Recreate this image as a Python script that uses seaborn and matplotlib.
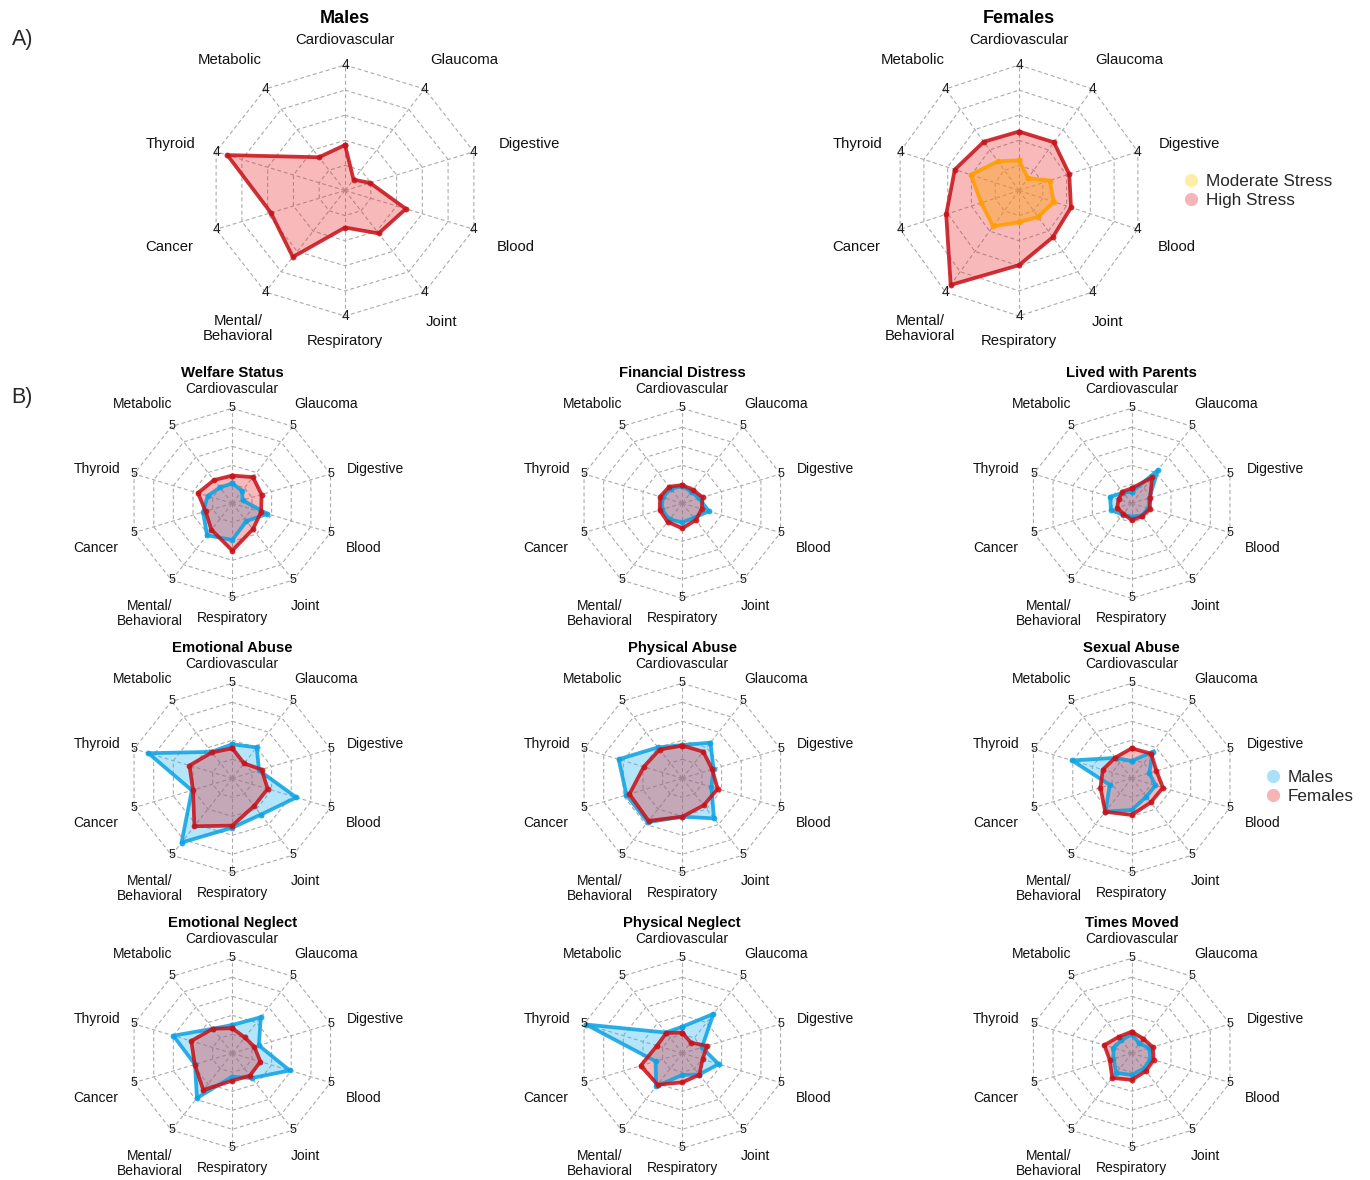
import numpy as np
import matplotlib
matplotlib.use("Agg")
import matplotlib.pyplot as plt
from matplotlib.lines import Line2D
import seaborn as sns

sns.set_theme(style="white")
plt.rcParams["font.family"] = ["Liberation Sans", "DejaVu Sans"]

categories = ["Cardiovascular", "Glaucoma", "Digestive", "Blood", "Joint",
              "Respiratory", "Mental/\nBehavioral", "Cancer", "Thyroid", "Metabolic"]

# A) stress level, max of scale = 4
males_high = [1.45, 0.43, 0.78, 1.89, 1.69, 1.18, 2.62, 2.30, 3.65, 1.31]
females_high = [1.88, 1.90, 1.69, 1.75, 1.84, 2.38, 3.72, 2.45, 2.16, 1.92]
females_moderate = [0.96, 0.49, 1.03, 1.17, 1.04, 1.01, 1.41, 1.27, 1.62, 1.15]

# B) adversities, max of scale = 5
panel_titles = ["Welfare Status", "Financial Distress", "Lived with Parents",
                "Emotional Abuse", "Physical Abuse", "Sexual Abuse",
                "Emotional Neglect", "Physical Neglect", "Times Moved"]
welfare_m = [1.05, 0.81, 0.52, 1.78, 1.16, 1.93, 2.08, 1.49, 1.25, 1.03]
welfare_f = [1.46, 1.70, 1.49, 1.47, 1.69, 2.49, 1.72, 1.36, 1.75, 1.51]
financial_m = [0.90, 0.75, 0.85, 1.35, 0.95, 1.00, 1.05, 1.05, 1.00, 0.95]
financial_f = [0.96, 0.87, 1.03, 0.99, 1.10, 1.32, 1.21, 1.15, 1.13, 1.08]
parents_m = [0.60, 2.15, 0.90, 0.85, 0.80, 0.70, 0.75, 1.06, 1.10, 0.70]
parents_f = [0.79, 1.68, 0.94, 0.92, 0.85, 0.88, 0.69, 0.74, 0.67, 0.76]
emo_abuse_m = [1.79, 2.01, 1.36, 3.26, 2.36, 2.60, 4.18, 2.06, 4.27, 1.72]
emo_abuse_f = [1.58, 0.97, 1.49, 1.80, 1.80, 2.49, 3.12, 2.00, 2.18, 1.68]
phys_abuse_m = [1.75, 2.32, 1.59, 1.48, 2.61, 2.02, 2.86, 2.84, 3.24, 2.01]
phys_abuse_f = [1.72, 1.73, 1.52, 1.80, 1.76, 2.02, 2.77, 2.69, 1.96, 1.87]
sex_abuse_m = [0.91, 1.72, 0.90, 1.21, 1.20, 1.67, 2.16, 1.12, 3.04, 1.33]
sex_abuse_f = [1.58, 1.60, 1.26, 1.59, 1.57, 1.93, 2.18, 1.59, 1.47, 1.35]
emo_neglect_m = [1.49, 2.35, 1.35, 2.92, 1.61, 1.23, 2.91, 1.90, 3.00, 1.60]
emo_neglect_f = [1.32, 1.03, 1.12, 1.43, 1.45, 1.44, 2.39, 1.91, 2.09, 1.60]
phys_neglect_m = [1.40, 2.56, 1.00, 1.85, 1.38, 1.14, 2.15, 1.36, 4.90, 1.35]
phys_neglect_f = [1.09, 0.70, 1.26, 1.03, 1.40, 1.53, 2.04, 2.12, 1.29, 1.32]
moved_m = [1.00, 0.64, 0.90, 0.95, 1.00, 1.14, 1.28, 0.93, 0.93, 0.85]
moved_f = [1.14, 0.95, 1.07, 1.12, 1.16, 1.40, 1.60, 1.12, 1.39, 1.07]

males_panels = [welfare_m, financial_m, parents_m, emo_abuse_m, phys_abuse_m,
                sex_abuse_m, emo_neglect_m, phys_neglect_m, moved_m]
females_panels = [welfare_f, financial_f, parents_f, emo_abuse_f, phys_abuse_f,
                  sex_abuse_f, emo_neglect_f, phys_neglect_f, moved_f]

RED_LINE, RED_FILL = "#C8141C", "#E8282A"
BLUE_LINE, BLUE_FILL = "#0FA3E3", "#2CB6F2"
ORANGE_LINE, ORANGE_FILL, GOLD = "#FF9E00", "#FFA41C", "#FFD21F"

W, H = 1370, 1180
fig = plt.figure(figsize=(W / 100, H / 100), dpi=100)

# label offsets in units of the radar radius
top_label_pos = [(0, 1.20), (0.88, 1.04), (1.36, 0.37), (1.26, -0.45), (0.71, -1.05),
                 (0, -1.20), (-0.79, -1.10), (-1.30, -0.45), (-1.29, 0.37), (-0.85, 1.04)]
bot_label_pos = [(0, 1.20), (0.91, 1.05), (1.39, 0.36), (1.27, -0.47), (0.71, -1.08),
                 (0, -1.21), (-0.80, -1.16), (-1.32, -0.47), (-1.31, 0.36), (-0.87, 1.05)]


def radar(cx, cy, rx, ry, vmax, series, title, label_pos, label_size, tick_size, title_size):
    ax = fig.add_axes([(cx - rx) / W, 1 - (cy + ry) / H, 2 * rx / W, 2 * ry / H],
                      projection="polar")
    ax.set_aspect("auto")
    ax.set_theta_offset(np.pi / 2)
    ax.set_theta_direction(-1)
    n = len(categories)
    theta = np.linspace(0, 2 * np.pi, n, endpoint=False)
    closed = np.append(theta, theta[0])

    for k in range(1, 6):
        ax.plot(closed, np.full(n + 1, vmax * k / 5), color="#ABABAB", lw=0.8,
                ls=(0, (3.5, 2.5)), zorder=1, clip_on=False)
    for t in theta:
        ax.plot([t, t], [0, vmax], color="#ABABAB", lw=0.8, ls=(0, (3.5, 2.5)),
                zorder=1, clip_on=False)

    for values, line_color, fill_color, fill_alpha in series:
        v = np.append(values, values[0])
        ax.fill(closed, v, color=fill_color, alpha=fill_alpha, lw=0, zorder=3)
        sns.lineplot(x=closed, y=v, sort=False, estimator=None, ax=ax,
                     color=line_color, lw=2.7, alpha=0.88, marker="o", markersize=4.2,
                     markeredgewidth=0, legend=False, zorder=4, clip_on=False)

    ax.set_ylim(0, vmax)
    ax.set_xticks([])
    ax.set_yticks([])
    ax.set_xlabel("")
    ax.set_ylabel("")
    ax.grid(False)
    ax.spines["polar"].set_visible(False)
    ax.set_facecolor("none")

    for t in theta:
        ax.text(t, vmax, str(vmax), ha="center", va="center", fontsize=tick_size,
                color="#1A1A1A", zorder=5)
    for name, (ux, uy) in zip(categories, label_pos):
        ax.text(0.5 + 0.5 * ux, 0.5 + 0.5 * uy, name, transform=ax.transAxes,
                ha="center", va="center", fontsize=label_size, color="#111111",
                linespacing=1.15)
    ax.text(0.5, 0.5 + 0.5 * 1.37, title, transform=ax.transAxes, ha="center",
            va="center", fontsize=title_size, fontweight="bold", color="black")
    return ax


# A) top row
radar(345, 190.5, 135.5, 125.5, 4, [(males_high, RED_LINE, RED_FILL, 0.32)],
      "Males", top_label_pos, 10.7, 10, 13)
radar(1019, 190.5, 125, 125.5, 4,
      [(females_high, RED_LINE, RED_FILL, 0.32),
       (females_moderate, ORANGE_LINE, ORANGE_FILL, 0.45)],
      "Females", top_label_pos, 10.7, 10, 13)

# B) grid of adversities
col_x = [232.3, 682.3, 1131.7]
row_y = [503.3, 778.3, 1053.3]
for i, title in enumerate(panel_titles):
    r, c = divmod(i, 3)
    radar(col_x[c], row_y[r], 103.3, 95, 5,
          [(males_panels[i], BLUE_LINE, BLUE_FILL, 0.35),
           (females_panels[i], RED_LINE, RED_FILL, 0.32)],
          title, bot_label_pos, 10, 9, 10.7)

fig.text(23 / W, 1 - 40 / H, "A)", ha="center", va="center", fontsize=15.5)
fig.text(22 / W, 1 - 397 / H, "B)", ha="center", va="center", fontsize=15.5)

stress_handles = [
    Line2D([0], [0], marker="o", ls="", markersize=9.5, markeredgewidth=0,
           markerfacecolor=GOLD, alpha=0.4),
    Line2D([0], [0], marker="o", ls="", markersize=9.5, markeredgewidth=0,
           markerfacecolor=RED_FILL, alpha=0.35),
]
fig.legend(stress_handles, ["Moderate Stress", "High Stress"], loc="center left",
           bbox_to_anchor=(1182 / W, 1 - 191 / H), frameon=False, fontsize=12.3,
           handlelength=1.0, handletextpad=0.4, labelspacing=0.25,
           borderpad=0, borderaxespad=0)

sex_handles = [
    Line2D([0], [0], marker="o", ls="", markersize=9.5, markeredgewidth=0,
           markerfacecolor=BLUE_FILL, alpha=0.4),
    Line2D([0], [0], marker="o", ls="", markersize=9.5, markeredgewidth=0,
           markerfacecolor=RED_FILL, alpha=0.35),
]
fig.legend(sex_handles, ["Males", "Females"], loc="center left",
           bbox_to_anchor=(1264 / W, 1 - 787 / H), frameon=False, fontsize=12.3,
           handlelength=1.0, handletextpad=0.4, labelspacing=0.25,
           borderpad=0, borderaxespad=0)

fig.savefig("out.png", dpi=100)
